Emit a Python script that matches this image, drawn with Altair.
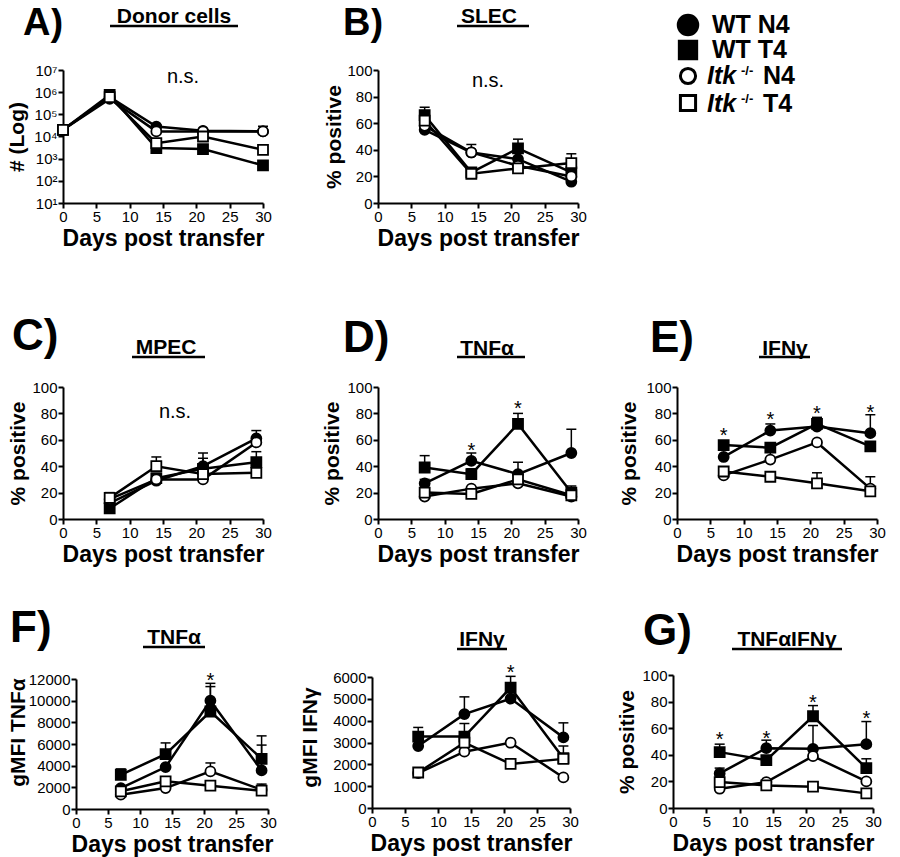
import altair as alt
import pandas as pd

FONT = "Liberation Sans"
W, H = 884, 849

GROUPS = ["WT N4", "WT T4", "Itk N4", "Itk T4"]
SHAPES = ["circle", "square", "circle", "square"]
FILLS = ["black", "black", "white", "white"]

# ---------------- data ----------------
A_days = [0, 7, 14, 21, 30]
A_mean = {"WT N4": [2e4, 6e5, 2.8e4, 1.8e4, 1.7e4],
          "WT T4": [2e4, 7.5e5, 3e3, 2.7e3, 5e2],
          "Itk N4": [2e4, 5e5, 1.7e4, 1.7e4, 1.7e4],
          "Itk T4": [2e4, 6e5, 5e3, 1e4, 2.5e3]}
A_err = {"WT N4": [None, None, 3.4e4, None, None],
         "WT T4": [None, None, None, None, None],
         "Itk N4": [None, None, None, None, 2.9e4],
         "Itk T4": [None, None, None, None, None]}

DAYS = [7, 14, 21, 29]
B_mean = {"WT N4": [55, 38, 33, 16], "WT T4": [66, 23, 41, 23],
          "Itk N4": [58, 38, 28, 20], "Itk T4": [62, 22, 26, 30]}
B_err = {"WT N4": [None, None, None, None], "WT T4": [72, None, 48, None],
         "Itk N4": [None, 44, None, None], "Itk T4": [None, None, None, 37]}

C_mean = {"WT N4": [12, 29, 40, 61], "WT T4": [8, 31, 38, 43],
          "Itk N4": [15, 30, 30, 58], "Itk T4": [16, 40, 34, 35]}
C_err = {"WT N4": [None, None, 50, 67], "WT T4": [None, None, 46, 51],
         "Itk N4": [None, None, None, None], "Itk T4": [20, 47, None, None]}

D_mean = {"WT N4": [27, 44, 34, 50], "WT T4": [39, 34, 72, 20],
          "Itk N4": [17, 23, 27, 17], "Itk T4": [20, 19, 30, 18]}
D_err = {"WT N4": [30, 50, 43, 68], "WT T4": [48, 38, 80, 25],
         "Itk N4": [None, None, None, None], "Itk T4": [None, None, None, None]}

E_mean = {"WT N4": [47, 67, 70, 65], "WT T4": [56, 54, 72, 55],
          "Itk N4": [33, 45, 58, 23], "Itk T4": [36, 32, 27, 21]}
E_err = {"WT N4": [None, 72, None, 79], "WT T4": [None, None, 77, None],
         "Itk N4": [None, 52, None, 32], "Itk T4": [None, None, 35, None]}

F_mean = {"WT N4": [1930, 3870, 10000, 3560], "WT T4": [3160, 5060, 9000, 4630],
          "Itk N4": [1320, 1930, 3470, 1780], "Itk T4": [1630, 2550, 2150, 1690]}
F_err = {"WT N4": [None, None, 11600, 5900], "WT T4": [3700, 6100, 11300, 6750],
         "Itk N4": [None, None, 4250, None], "Itk T4": [None, None, None, 2300]}

FI_mean = {"WT N4": [2840, 4300, 5010, 3235], "WT T4": [3270, 3270, 5510, 2280],
           "Itk N4": [1595, 2580, 2990, 1400], "Itk T4": [1625, 2990, 2020, 2250]}
FI_err = {"WT N4": [None, 5090, None, 3900], "WT T4": [3690, 3870, 6030, 2840],
          "Itk N4": [None, None, None, None], "Itk T4": [None, None, None, None]}

G_mean = {"WT N4": [26, 45, 44.5, 48], "WT T4": [42, 36, 69, 30],
          "Itk N4": [14.5, 19.5, 39, 20], "Itk T4": [19.5, 17, 16, 11]}
G_err = {"WT N4": [30, 51, 62, 65], "WT T4": [48, None, 77, 37],
         "Itk N4": [None, None, None, None], "Itk T4": [None, None, None, None]}

# annotations: (day, y, text)
A_notes = [(18, 5e6, "n.s.")]
B_notes = [(16.5, 92, "n.s.")]
C_notes = [(16.8, 81, "n.s.")]
D_notes = [(14, 55, "*"), (21, 87, "*")]
E_notes = [(7, 67, "*"), (14, 79, "*"), (21, 83, "*"), (29, 84, "*")]
F_notes = [(21, 12300, "*")]
FI_notes = [(21, 6430, "*")]
G_notes = [(7, 55, "*"), (14, 56, "*"), (21, 83, "*"), (29, 71, "*")]

X_TICKS = [0, 5, 10, 15, 20, 25, 30]
PCT_TICKS = [0, 20, 40, 60, 80, 100]
LOG_TICKS = [10, 100, 1000, 1e4, 1e5, 1e6, 1e7]
F_TICKS = [0, 2000, 4000, 6000, 8000, 10000, 12000]
FI_TICKS = [0, 1000, 2000, 3000, 4000, 5000, 6000]


def make_df(days, mean, err):
    rows = []
    for g in GROUPS:
        for d, v, e in zip(days, mean[g], err[g]):
            rows.append({"day": d, "group": g, "value": v, "err": e})
    return pd.DataFrame(rows)


panels = [
    dict(days=A_days, mean=A_mean, err=A_err, notes=A_notes, xr=[55, 255], yr=[195, 62],
         ydom=[10, 1e7], log=True, yticks=LOG_TICKS, ytitle="# (Log)", tx=-36),
    dict(days=DAYS, mean=B_mean, err=B_err, notes=B_notes, xr=[370, 570], yr=[195, 62],
         ydom=[0, 100], log=False, yticks=PCT_TICKS, ytitle="% positive", tx=-34),
    dict(days=DAYS, mean=C_mean, err=C_err, notes=C_notes, xr=[55, 255], yr=[511, 379],
         ydom=[0, 100], log=False, yticks=PCT_TICKS, ytitle="% positive", tx=-35),
    dict(days=DAYS, mean=D_mean, err=D_err, notes=D_notes, xr=[370, 570], yr=[511, 379],
         ydom=[0, 100], log=False, yticks=PCT_TICKS, ytitle="% positive", tx=-36),
    dict(days=DAYS, mean=E_mean, err=E_err, notes=E_notes, xr=[669, 869], yr=[511, 379],
         ydom=[0, 100], log=False, yticks=PCT_TICKS, ytitle="% positive", tx=-38),
    dict(days=DAYS, mean=F_mean, err=F_err, notes=F_notes, xr=[68, 260], yr=[801, 671],
         ydom=[0, 12000], log=False, yticks=F_TICKS, ytitle="gMFI TNFα", tx=-48, titleY=724),
    dict(days=DAYS, mean=FI_mean, err=FI_err, notes=FI_notes, xr=[364, 562], yr=[800, 669],
         ydom=[0, 6000], log=False, yticks=FI_TICKS, ytitle="gMFI IFNγ", tx=-52, titleY=729),
    dict(days=DAYS, mean=G_mean, err=G_err, notes=G_notes, xr=[665, 865], yr=[800, 667],
         ydom=[0, 100], log=False, yticks=PCT_TICKS, ytitle="% positive", tx=-36),
]

layers = []
EMPTY = alt.Data(values=[{}])

for p in panels:
    df = make_df(p["days"], p["mean"], p["err"])
    xs = alt.Scale(domain=[0, 30], range=p["xr"], nice=False, zero=False)
    yextra = {"titleX": p["tx"], "titleBaseline": "bottom", "titleFontSize": 21}
    if "titleY" in p:
        yextra["titleY"] = p["titleY"]
    if p["log"]:
        ys = alt.Scale(type="log", domain=p["ydom"], range=p["yr"], nice=False)
        yaxis = alt.Axis(orient="left", offset=-p["xr"][0], values=p["yticks"], title=p["ytitle"],
                         labelExpr="'10' + ['⁰','¹','²','³','⁴','⁵','⁶','⁷'][round(log(datum.value)/LN10)]",
                         **yextra)
    else:
        ys = alt.Scale(domain=p["ydom"], range=p["yr"], nice=False, zero=False)
        yaxis = alt.Axis(orient="left", offset=-p["xr"][0], values=p["yticks"], title=p["ytitle"],
                         format="d", **yextra)
    xaxis = alt.Axis(orient="bottom", offset=p["yr"][0] - H, values=X_TICKS, title="Days post transfer")

    base = alt.Chart(df)
    errs = base.transform_filter("isValid(datum.err)")
    layers.append(errs.mark_rule(color="black", strokeWidth=1.5).encode(
        x=alt.X("day:Q", scale=xs, axis=None),
        y=alt.Y("value:Q", scale=ys, axis=None),
        y2="err:Q"))
    layers.append(errs.mark_tick(orient="horizontal", color="black", size=10, thickness=1.5, opacity=1).encode(
        x=alt.X("day:Q", scale=xs, axis=None),
        y=alt.Y("err:Q", scale=ys, axis=None)))
    layers.append(base.mark_line(color="black", strokeWidth=2.5).encode(
        x=alt.X("day:Q", scale=xs, axis=xaxis),
        y=alt.Y("value:Q", scale=ys, axis=yaxis),
        detail="group:N", order="day:Q"))
    layers.append(base.mark_point(filled=True, size=100, stroke="black", strokeWidth=1.8, opacity=1).encode(
        x=alt.X("day:Q", scale=xs, axis=None),
        y=alt.Y("value:Q", scale=ys, axis=None),
        shape=alt.Shape("group:N", scale=alt.Scale(domain=GROUPS, range=SHAPES), legend=None),
        fill=alt.Fill("group:N", scale=alt.Scale(domain=GROUPS, range=FILLS), legend=None)))
    ndf = pd.DataFrame(p["notes"], columns=["day", "y", "label"])
    ns = ndf[ndf["label"] == "n.s."]
    st = ndf[ndf["label"] == "*"]
    if len(ns):
        layers.append(alt.Chart(ns).mark_text(font=FONT, fontSize=20, align="center", baseline="middle",
                                              color="black").encode(
            x=alt.X("day:Q", scale=xs, axis=None), y=alt.Y("y:Q", scale=ys, axis=None), text="label:N"))
    if len(st):
        layers.append(alt.Chart(st).mark_text(font=FONT, fontSize=20, align="center", baseline="middle",
                                              dy=5, color="black").encode(
            x=alt.X("day:Q", scale=xs, axis=None), y=alt.Y("y:Q", scale=ys, axis=None), text="label:N"))


def txt(text, x, y, size, weight="bold", align="left", style="normal"):
    return alt.Chart(EMPTY).mark_text(text=text, font=FONT, fontSize=size, fontWeight=weight,
                                      fontStyle=style, align=align, baseline="alphabetic",
                                      color="black").encode(x=alt.value(x), y=alt.value(y))


def uline(x1, x2, y):
    return alt.Chart(EMPTY).mark_rule(color="black", strokeWidth=2.5).encode(
        x=alt.value(x1), x2=alt.value(x2), y=alt.value(y))


def lmark(shape, fill, x, y, size):
    return alt.Chart(EMPTY).mark_point(shape=shape, filled=True, fill=fill, stroke="black",
                                       strokeWidth=3, size=size, opacity=1).encode(
        x=alt.value(x), y=alt.value(y))


# panel letters
for t, x, y, s in [("A)", 15, 27, 38), ("B)", 335, 27, 38), ("C)", 4, 342, 44), ("D)", 335, 344, 44),
                   ("E)", 642, 344, 44), ("F)", 2, 634, 44), ("G)", 635, 637, 44)]:
    layers.append(txt(t, x, y, s))

# panel titles with underline
for t, cx, by, u1, u2, uy in [("Donor cells", 166, 15, 102, 230, 18),
                              ("SLEC", 481, 15, 449, 521, 18),
                              ("MPEC", 158, 346, 124, 197, 349),
                              ("TNFα", 479, 347, 449, 517, 349),
                              ("IFNγ", 777, 347, 751, 802, 349),
                              ("TNFα", 166, 636, 135, 197, 639),
                              ("IFNγ", 474, 638, 449, 499, 641),
                              ("TNFαIFNγ", 779, 638, 724, 834, 641)]:
    layers.append(txt(t, cx, by, 21, align="center"))
    layers.append(uline(u1, u2, uy))

# legend
layers.append(lmark("circle", "black", 680, 17, 380))
layers.append(lmark("square", "black", 680, 42, 300))
layers.append(lmark("circle", "white", 680, 68, 230))
layers.append(lmark("square", "white", 680, 95, 230))
layers.append(txt("WT N4", 704, 25, 25))
layers.append(txt("WT T4", 704, 50, 25))
for by, lab in [(76, "N4"), (104, "T4")]:
    layers.append(txt("Itk", 699, by, 25, style="italic"))
    layers.append(txt("-/-", 733, by - 9, 13))
    layers.append(txt(lab, 755, by, 25))

chart = alt.layer(*layers).resolve_scale(
    x="independent", y="independent"
).resolve_axis(
    x="independent", y="independent"
).properties(
    width=W, height=H, autosize=alt.AutoSizeParams(type="none"), padding=0
).configure_view(stroke=None).configure_axis(
    grid=False, domainColor="black", domainWidth=2, tickColor="black", tickWidth=2, tickSize=5,
    labelFont=FONT, labelFontSize=15, labelColor="black", labelPadding=1, labelFlush=False,
    titleFont=FONT, titleFontSize=23, titleFontWeight="bold", titleColor="black", titlePadding=3
)

chart.save("out.html", embed_options={"renderer": "svg", "actions": False})
